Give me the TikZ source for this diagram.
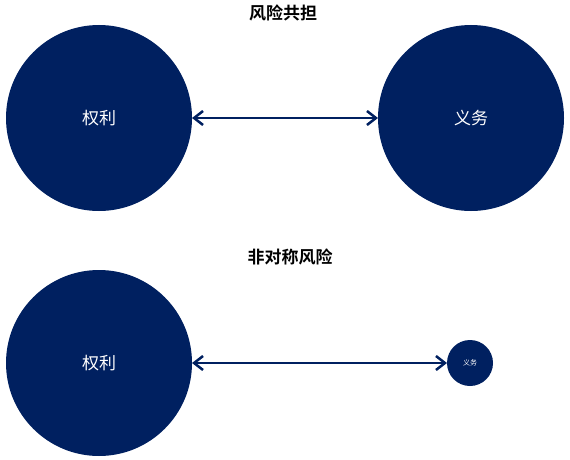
\documentclass[tikz,border=0pt]{standalone}
\usepackage{fontspec}
\setmainfont{Noto Sans CJK SC}[BoldFont={Noto Sans CJK SC Bold}]
\usetikzlibrary{arrows.meta}
\definecolor{navy}{HTML}{002060}
\begin{document}
\begin{tikzpicture}[x=1pt,y=-1pt,
		ball/.style={circle,fill=navy,inner sep=0pt,outer sep=0pt,minimum size=186pt,text=white,font=\fontsize{17}{17}\selectfont},
		dot/.style={circle,fill=navy,inner sep=0pt,outer sep=0pt,minimum size=46pt,text=white,font=\fontsize{7}{7}\selectfont},
		heading/.style={font=\fontsize{17}{17}\selectfont\bfseries},
		link/.style={navy,line width=2.5pt,{Straight Barb[length=9pt,width=14pt]}-{Straight Barb[length=9pt,width=14pt]}}]
				\useasboundingbox (0,0) rectangle (570,460);
				% risk sharing
				\node[heading] (title1) at (283,13) {风险共担};
				\node[ball] (right1) at (99,118) {权利};
				\node[ball] (duty1) at (471,118) {义务};
				\draw[link] (right1) -- (duty1);
				% asymmetric risk
				\node[heading] (title2) at (290,257) {非对称风险};
				\node[ball] (right2) at (99,363) {权利};
				\node[dot] (duty2) at (470,363) {义务};
				\draw[link] (right2) -- (duty2);
			\end{tikzpicture}
\end{document}
